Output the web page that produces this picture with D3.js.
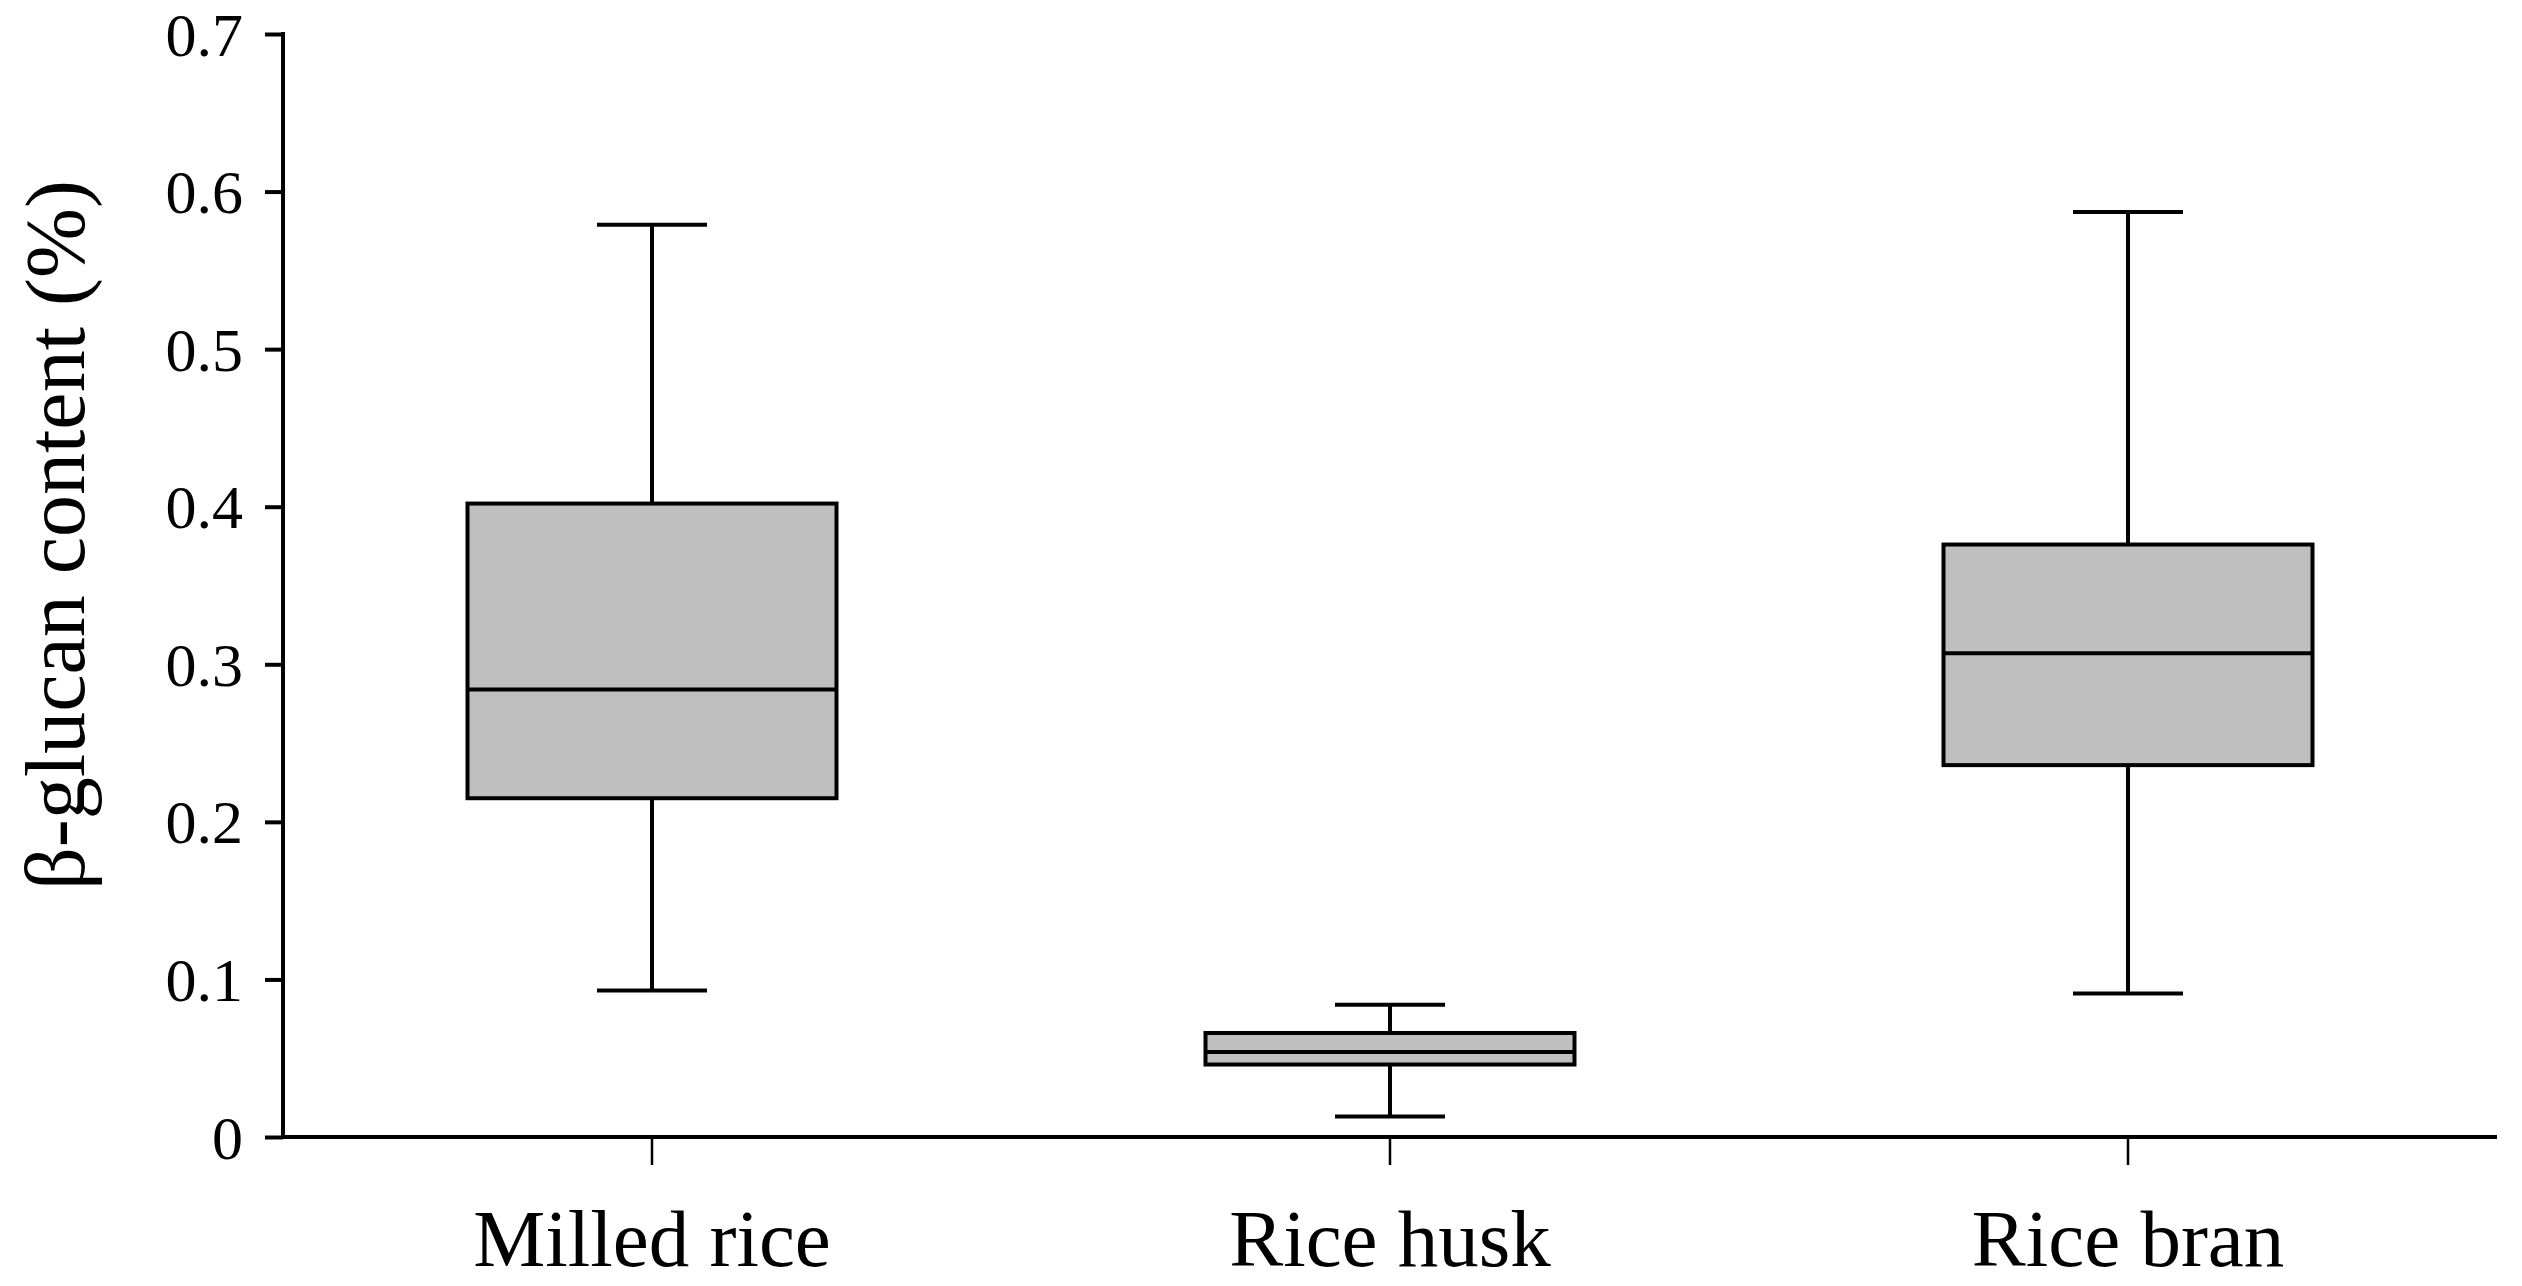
<!DOCTYPE html>
<html>
<head>
<meta charset="utf-8">
<style>
    body { margin: 0; background: #fff; }
    svg text { font-family: 'Liberation Serif', 'DejaVu Serif', serif; fill: #000; }
</style>
</head>
<body>
<div id="chart"></div>
<script src="https://cdn.jsdelivr.net/npm/d3@7/dist/d3.min.js"></script>
<script>
    // values
    var groups = ['Milled rice', 'Rice husk', 'Rice bran'];
    var whiskerLow = [0.093, 0.013, 0.091];
    var q1 = [0.215, 0.046, 0.236];
    var median = [0.284, 0.054, 0.307];
    var q3 = [0.402, 0.066, 0.376];
    var whiskerHigh = [0.579, 0.084, 0.587];
    var yTicks = [0, 0.1, 0.2, 0.3, 0.4, 0.5, 0.6, 0.7];
    var yTitle = 'β-glucan content (%)';

    var width = 2522, height = 1286;
    // note: "top" is taken by window.top, so prefix these
    var plotLeft = 283, plotRight = 2497, plotTop = 34, plotBottom = 1137;

    var boxes = groups.map(function(g, i){
        return {name: g, lo: whiskerLow[i], q1: q1[i], med: median[i], q3: q3[i], hi: whiskerHigh[i]};
    });

    var svg = d3.select('#chart')
        .append('svg')
        .attr('width', width)
        .attr('height', height);

    var x = d3.scaleBand()
        .domain(groups)
        .range([plotLeft, plotRight])
        .paddingInner(0.5)
        .paddingOuter(0.25);

    var y = d3.scaleLinear()
        .domain([0, 0.7])
        .range([plotBottom, plotTop]);

    // y axis
    var yAxis = svg.append('g')
        .attr('transform', 'translate(' + plotLeft + ',0)')
        .call(d3.axisLeft(y).tickValues(yTicks).tickSize(18).tickPadding(22)
            .tickFormat(function(d){ return d === 0 ? '0' : d3.format('.1f')(d); }));
    yAxis.select('.domain').attr('stroke', '#000').attr('stroke-width', 4)
        .attr('d', 'M0,' + (plotTop - 2) + 'V' + (plotBottom + 2));
    yAxis.selectAll('.tick line').attr('stroke', '#000').attr('stroke-width', 4);
    yAxis.selectAll('.tick text').attr('font-size', 62).attr('dy', '0.34em')
        .style('font-family', "'Liberation Serif', serif");

    // x axis
    var xAxis = svg.append('g')
        .attr('transform', 'translate(0,' + plotBottom + ')')
        .call(d3.axisBottom(x).tickSize(28).tickPadding(43));
    xAxis.select('.domain').attr('stroke', '#000').attr('stroke-width', 4)
        .attr('d', 'M' + (plotLeft - 2) + ',0H' + plotRight);
    xAxis.selectAll('.tick line').attr('stroke', '#000').attr('stroke-width', 2.5);
    xAxis.selectAll('.tick text').attr('font-size', 81)
        .style('font-family', "'Liberation Serif', serif");

    // y title
    svg.append('text')
        .attr('transform', 'translate(55,535) rotate(-90)')
        .attr('text-anchor', 'middle')
        .attr('dominant-baseline', 'central')
        .attr('font-size', 84)
        .text(yTitle);

    // boxes
    var capW = 110;
    var g = svg.append('g').selectAll('g')
        .data(boxes)
        .enter().append('g')
        .attr('transform', function(d){ return 'translate(' + (x(d.name) + x.bandwidth() / 2) + ',0)'; });

    g.append('line')
        .attr('x1', 0).attr('x2', 0)
        .attr('y1', function(d){ return y(d.hi); })
        .attr('y2', function(d){ return y(d.lo); })
        .attr('stroke', '#000').attr('stroke-width', 4);

    g.selectAll('.cap')
        .data(function(d){ return [d.lo, d.hi]; })
        .enter().append('line')
        .attr('class', 'cap')
        .attr('x1', -capW / 2).attr('x2', capW / 2)
        .attr('y1', function(v){ return y(v); })
        .attr('y2', function(v){ return y(v); })
        .attr('stroke', '#000').attr('stroke-width', 4);

    g.append('rect')
        .attr('x', -x.bandwidth() / 2)
        .attr('width', x.bandwidth())
        .attr('y', function(d){ return y(d.q3); })
        .attr('height', function(d){ return y(d.q1) - y(d.q3); })
        .attr('fill', '#bfbfbf')
        .attr('stroke', '#000').attr('stroke-width', 4);

    g.append('line')
        .attr('x1', -x.bandwidth() / 2).attr('x2', x.bandwidth() / 2)
        .attr('y1', function(d){ return y(d.med); })
        .attr('y2', function(d){ return y(d.med); })
        .attr('stroke', '#000').attr('stroke-width', 4);
</script>
</body>
</html>
